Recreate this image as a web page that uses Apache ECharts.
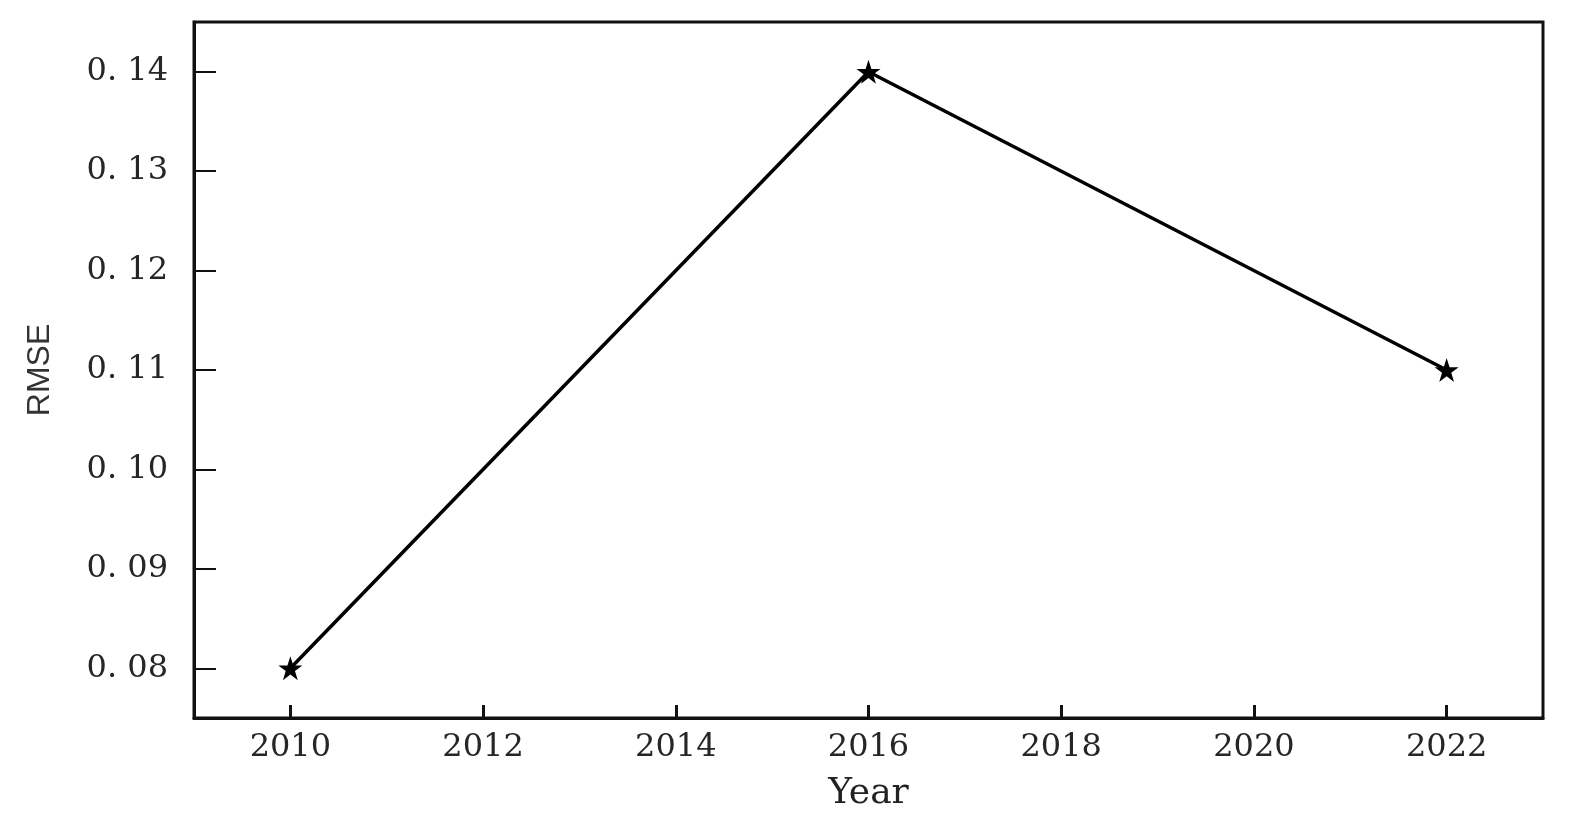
<!DOCTYPE html>
<html>
<head>
<meta charset="utf-8">
<script src="https://cdn.jsdelivr.net/npm/echarts@6/dist/echarts.min.js"></script>
<style>
  html, body { margin: 0; padding: 0; background: #fff; }
  #chart { width: 1569px; height: 840px; }
</style>
</head>
<body>
<div id="chart"></div>
<script>
const years = [2010, 2016, 2022]
const rmse = [0.08, 0.14, 0.11]
const xTicks = [2010, 2012, 2014, 2016, 2018, 2020, 2022]
const yTicks = [0.08, 0.09, 0.10, 0.11, 0.12, 0.13, 0.14]

const starPath = 'path://M50,0 L61.8,35.1 L98.9,35.1 L68.9,56.8 L80.2,91.9 L50,70.2 L19.8,91.9 L31.1,56.8 L1.1,35.1 L38.2,35.1 Z'
const labelFont = '"DejaVu Serif", "Liberation Serif", serif'

const myChart = echarts.init(document.getElementById('chart'))
const option = {
    backgroundColor: '#fff',
    animation: false,
    grid: {
        left: 194,
        right: 26,
        top: 22,
        bottom: 122,
        show: true,
        borderColor: '#111',
        borderWidth: 3,
    },
    xAxis: {
        type: 'value',
        min: 2009,
        max: 2023,
        name: 'Year',
        nameLocation: 'middle',
        nameGap: 58,
        nameTextStyle: { fontFamily: labelFont, fontSize: 36, color: '#222' },
        axisLine: { show: true, onZero: false, lineStyle: { color: '#111', width: 3 } },
        axisTick: { show: true, inside: true, length: 13, lineStyle: { color: '#111', width: 3 }, customValues: xTicks },
        axisLabel: {
            margin: 14,
            fontFamily: labelFont,
            fontSize: 32,
            color: '#262626',
            customValues: xTicks,
            formatter: (v) => String(v),
        },
        splitLine: { show: false },
    },
    yAxis: {
        type: 'value',
        min: 0.075,
        max: 0.145,
        name: 'RMSE',
        nameLocation: 'middle',
        nameGap: 138,
        nameTextStyle: { fontFamily: '"Liberation Sans Narrow", "Liberation Sans", sans-serif', fontSize: 32, color: '#333' },
        axisLine: { show: true, lineStyle: { color: '#111', width: 3 } },
        axisTick: { show: true, inside: true, length: 22, lineStyle: { color: '#111', width: 2 }, customValues: yTicks },
        axisLabel: {
            margin: 26,
            fontFamily: labelFont,
            fontSize: 32,
            color: '#262626',
            customValues: yTicks,
            formatter: (v) => v.toFixed(2).replace('.', '. '),
        },
        splitLine: { show: false },
    },
    series: [
        {
            type: 'line',
            data: years.map((y, i) => [y, rmse[i]]),
            symbol: starPath,
            symbolSize: 24,
            itemStyle: { color: '#000' },
            lineStyle: { color: '#000', width: 3.5 },
        }
    ]
}
option && myChart.setOption(option)
</script>
</body>
</html>
